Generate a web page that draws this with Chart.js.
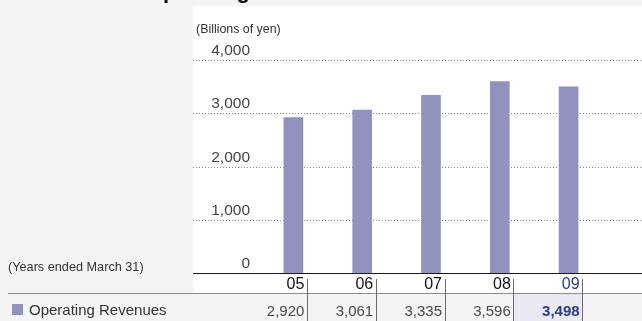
<!DOCTYPE html>
<html>
<head>
<meta charset="utf-8">
<script src="https://cdn.jsdelivr.net/npm/chart.js@4/dist/chart.umd.min.js"></script>
<style>
  html, body { margin: 0; padding: 0; background: #f4f4f4; }
  #wrap { width: 642px; height: 321px; position: relative; }
</style>
</head>
<body>
<div id="wrap"><canvas id="c" width="642" height="321"></canvas></div>
<script>
// Fiscal years (ended March 31) and operating revenues, billions of yen
const years = ['05', '06', '07', '08', '09'];
const revenues = [2920, 3061, 3335, 3596, 3498];
const tableLabels = ['2,920', '3,061', '3,335', '3,596', '3,498'];
const yTicks = [0, 1000, 2000, 3000, 4000];
const yTickLabels = ['0', '1,000', '2,000', '3,000', '4,000'];

const BAR = '#9192be';
const ACCENT = '#2b3a8f';
const FONT = '"Liberation Sans", Arial, Helvetica, sans-serif';

const W = 642, H = 321;
const PANEL_LEFT = 193, PANEL_TOP = 6, PANEL_BOTTOM = 293;

const decor = {
  id: 'decor',
  beforeDraw(chart) {
    const ctx = chart.ctx;
    ctx.save();
    ctx.fillStyle = '#f4f4f4';
    ctx.fillRect(0, 0, W, H);
    ctx.fillStyle = '#ffffff';
    ctx.fillRect(PANEL_LEFT, PANEL_TOP, W - PANEL_LEFT, PANEL_BOTTOM - PANEL_TOP);

    // highlighted cell for the latest year
    const x = chart.scales.x;
    const l = Math.round(x.getPixelForValue(3) + 13.5) + 1, r = Math.round(x.getPixelForValue(4) + 13.5);
    ctx.fillStyle = '#e9e9f3';
    ctx.fillRect(l, PANEL_BOTTOM + 1, r - l, H - PANEL_BOTTOM - 1);

    // heading (runs off the top edge)
    ctx.fillStyle = '#111';
    ctx.font = 'bold 22px ' + FONT;
    ctx.textAlign = 'left';
    ctx.textBaseline = 'alphabetic';
    ctx.fillText('Operating Revenues', 146, -2);
    ctx.restore();
  },
  beforeDatasetsDraw(chart) {
    const ctx = chart.ctx;
    const y = chart.scales.y;
    ctx.save();
    // dotted gridlines
    ctx.strokeStyle = '#8a8a8a';
    ctx.lineWidth = 1;
    ctx.setLineDash([1, 2]);
    yTicks.forEach(v => {
      if (v === 0) return;
      const py = Math.round(y.getPixelForValue(v)) + 0.5;
      ctx.beginPath();
      ctx.moveTo(PANEL_LEFT, py);
      ctx.lineTo(W, py);
      ctx.stroke();
    });
    ctx.setLineDash([]);
    // tick labels sit above their lines
    ctx.fillStyle = '#444';
    ctx.font = '15.5px ' + FONT;
    ctx.textAlign = 'right';
    ctx.textBaseline = 'alphabetic';
    yTicks.forEach((v, i) => {
      const py = y.getPixelForValue(v);
      ctx.fillText(yTickLabels[i], 250, py - 5);
    });
    // unit
    ctx.font = '12.4px ' + FONT;
    ctx.textAlign = 'left';
    ctx.fillStyle = '#333';
    ctx.fillText('(Billions of yen)', 196, 33);
    ctx.restore();
  },
  afterDraw(chart) {
    const ctx = chart.ctx;
    const x = chart.scales.x, y = chart.scales.y;
    ctx.save();
    // baseline
    const py0 = Math.round(y.getPixelForValue(0)) + 0.5;
    ctx.strokeStyle = '#1a1a1a';
    ctx.lineWidth = 1;
    ctx.beginPath();
    ctx.moveTo(PANEL_LEFT, py0);
    ctx.lineTo(W, py0);
    ctx.stroke();

    // table rule
    ctx.strokeStyle = '#8c8c8c';
    ctx.beginPath();
    ctx.moveTo(8, PANEL_BOTTOM + 0.5);
    ctx.lineTo(W, PANEL_BOTTOM + 0.5);
    ctx.stroke();

    years.forEach((yr, i) => {
      const cx = x.getPixelForValue(i);
      const last = i === years.length - 1;
      // column divider
      const lx = Math.round(cx + 13.5) + 0.5;
      ctx.strokeStyle = '#6a6a6a';
      ctx.beginPath();
      ctx.moveTo(lx, 279);
      ctx.lineTo(lx, H);
      ctx.stroke();
      // year label
      ctx.textAlign = 'right';
      ctx.textBaseline = 'alphabetic';
      ctx.font = '16px ' + FONT;
      ctx.fillStyle = last ? ACCENT : '#111';
      ctx.fillText(yr, cx + 11, 289);
      // table value
      ctx.font = (last ? 'bold ' : '') + '15px ' + FONT;
      ctx.fillStyle = last ? ACCENT : '#4a4a4a';
      ctx.fillText(tableLabels[i], cx + 11, 316);
    });

    // row label with swatch
    ctx.fillStyle = BAR;
    ctx.fillRect(12, 304, 11, 11);
    ctx.fillStyle = '#333';
    ctx.font = '15px ' + FONT;
    ctx.textAlign = 'left';
    ctx.fillText('Operating Revenues', 29, 315);

    ctx.font = '12.7px ' + FONT;
    ctx.fillText('(Years ended March 31)', 8, 271);
    ctx.restore();
  }
};

new Chart(document.getElementById('c'), {
  type: 'bar',
  data: {
    labels: years,
    datasets: [{
      label: 'Operating Revenues',
      data: revenues,
      backgroundColor: BAR,
      borderWidth: 0,
      barThickness: 19
    }]
  },
  options: {
    responsive: false,
    animation: false,
    devicePixelRatio: 1,
    layout: { padding: { left: 259, right: 39, top: 60, bottom: 48 } },
    plugins: { legend: { display: false }, tooltip: { enabled: false } },
    scales: {
      x: {
        grid: { display: false },
        border: { display: false },
        ticks: { display: false },
        afterFit: s => { s.height = 0; }
      },
      y: {
        min: 0,
        max: 4000,
        ticks: { display: false, stepSize: 1000 },
        grid: { display: false },
        border: { display: false },
        afterFit: s => { s.width = 0; }
      }
    }
  },
  plugins: [decor]
});
</script>
</body>
</html>
